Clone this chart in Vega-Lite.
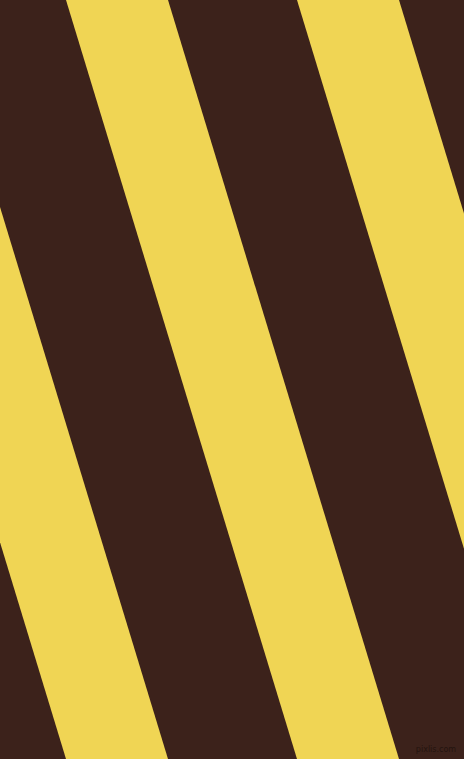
{
  "$schema": "https://vega.github.io/schema/vega-lite/v6.json",
  "width": 464,
  "height": 759,
  "autosize": {"type": "fit", "contains": "padding"},
  "padding": 0,
  "background": "#3C221B",
  "config": {"view": {"stroke": null}},
  "datasets": {
    "stripes": [
      {"stripe": "s1", "y": 0, "left": -165, "right": -63},
      {"stripe": "s1", "y": 759, "left": 66, "right": 168},
      {"stripe": "s2", "y": 0, "left": 66, "right": 168},
      {"stripe": "s2", "y": 759, "left": 297, "right": 399},
      {"stripe": "s3", "y": 0, "left": 297, "right": 399},
      {"stripe": "s3", "y": 759, "left": 528, "right": 630}
    ],
    "mark": [
      {"label": "pixlis.com", "x": 436, "y": 750}
    ]
  },
  "layer": [
    {
      "data": {"name": "stripes"},
      "mark": {"type": "area", "orient": "horizontal", "color": "#F0D554", "clip": true},
      "encoding": {
        "y": {"field": "y", "type": "quantitative", "scale": {"domain": [0, 759], "reverse": true, "zero": false, "nice": false}, "axis": null},
        "x": {"field": "left", "type": "quantitative", "stack": null, "scale": {"domain": [0, 464], "zero": false, "nice": false}, "axis": null},
        "x2": {"field": "right"},
        "detail": {"field": "stripe", "type": "nominal"}
      }
    },
    {
      "data": {"name": "mark"},
      "mark": {"type": "text", "font": "DejaVu Sans", "fontSize": 8, "color": "#24140F", "align": "center", "baseline": "middle"},
      "encoding": {
        "x": {"field": "x", "type": "quantitative"},
        "y": {"field": "y", "type": "quantitative"},
        "text": {"field": "label"}
      }
    }
  ]
}
